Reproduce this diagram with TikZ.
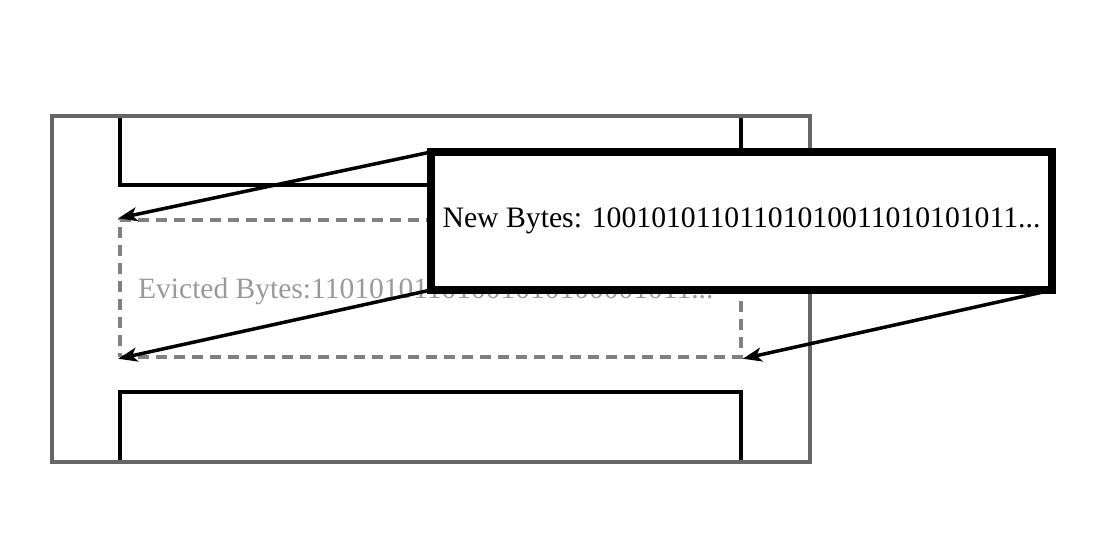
\documentclass[tikz,border=0pt]{standalone}
\usepackage{fontspec}
\setmainfont{Liberation Serif}
\usetikzlibrary{arrows.meta}
\definecolor{outergray}{RGB}{102,102,102}
\definecolor{dashgray}{RGB}{128,128,128}
\definecolor{evgray}{RGB}{153,153,153}
\tikzset{
  blackbox/.style={draw=black, line width=3.5pt, rectangle, inner sep=0pt},
  outerbox/.style={draw=outergray, line width=4.5pt, rectangle, inner sep=0pt},
  evictbox/.style={draw=dashgray, line width=3.5pt, dash pattern=on 11pt off 7pt, rectangle, inner sep=0pt},
  newbox/.style={draw=black, fill=white, line width=8pt, rectangle, inner sep=0pt, font=\fontsize{29.7}{34}\selectfont},
  evtext/.style={text=evgray, inner sep=0pt, font=\fontsize{29.5}{34}\selectfont},
  arr/.style={draw=black, line width=3.5pt, -{Stealth[length=19pt, width=14pt, inset=5pt]}}
}
\begin{document}
\begin{tikzpicture}[x=1pt, y=-1pt]
\useasboundingbox (0,0) rectangle (1102,553);
\node[blackbox, minimum width=621pt, minimum height=69pt] (top) at (430.5,150.5) {};
\node[blackbox, minimum width=621pt, minimum height=70pt] (bot) at (430.5,427) {};
\node[outerbox, minimum width=758pt, minimum height=346pt] (outer) at (431,289) {};
\node[evictbox, minimum width=621pt, minimum height=137pt] (ev) at (430.5,288.5) {};
\node[evtext, anchor=west] (evt) at (138,291.5) {Evicted Bytes:11010101101001010100001011...};
\coordinate (nwA) at (431,152);
\coordinate (swA) at (431,290);
\coordinate (seA) at (1052,290);
\draw[arr] (nwA) -- (ev.north west);
\draw[arr] (swA) -- (ev.south west);
\draw[arr] (seA) -- (ev.south east);
\node[newbox, minimum width=621pt, minimum height=138pt] (new) at (741.5,221) {New Bytes: 10010101101101010011010101011...};
\end{tikzpicture}
\end{document}
